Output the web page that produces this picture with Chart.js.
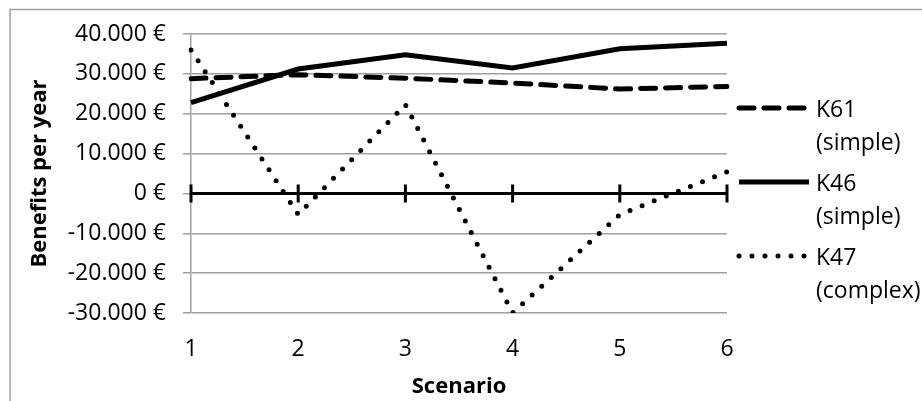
<!DOCTYPE html>
<html>
<head>
<meta charset="utf-8">
<script src="https://cdn.jsdelivr.net/npm/chart.js@4"></script>
<style>
  html, body { margin: 0; padding: 0; background: #fff; }
  #wrap { width: 922px; height: 401px; }
</style>
</head>
<body>
<div id="wrap"><canvas id="benefitsChart" width="922" height="401"></canvas></div>
<script>
const scenarios = ['1', '2', '3', '4', '5', '6'];
const seriesNames = [['K61', '(simple)'], ['K46', '(simple)'], ['K47', '(complex)']];
const k61Values = [28800, 29800, 28900, 27700, 26200, 26850];
const k46Values = [22800, 31200, 34800, 31500, 36300, 37700];
const k47Values = [36000, -5300, 22300, -30000, -5300, 5400];
const yTickValues = [-30000, -20000, -10000, 0, 10000, 20000, 30000, 40000];

const gridGray = '#a0a0a0';
const baseFont = { family: 'Open Sans', size: 23 };
const boldFont = { family: 'Open Sans', size: 22, weight: 'bold' };

function formatEuro(value) {
  const digits = String(Math.abs(value)).replace(/\B(?=(\d{3})+(?!\d))/g, '.');
  return (value < 0 ? '-' : '') + digits + ' €';
}

// grey frame round the chart (only top and left edges show)
const framePlugin = {
  id: 'frame',
  beforeDraw(chart) {
    const ctx = chart.ctx;
    ctx.save();
    ctx.strokeStyle = gridGray;
    ctx.lineWidth = 1.5;
    ctx.beginPath();
    ctx.moveTo(10, 401);
    ctx.lineTo(10, 9.5);
    ctx.lineTo(922, 9.5);
    ctx.stroke();
    ctx.restore();
  }
};

// black category axis crossing at zero, with tick marks
const zeroAxisPlugin = {
  id: 'zeroAxis',
  beforeDatasetsDraw(chart) {
    const { ctx, chartArea, scales } = chart;
    const y0 = scales.y.getPixelForValue(0);
    ctx.save();
    ctx.strokeStyle = '#000';
    ctx.lineWidth = 3;
    ctx.beginPath();
    ctx.moveTo(chartArea.left, y0);
    ctx.lineTo(chartArea.right, y0);
    scenarios.forEach((s, i) => {
      const x = scales.x.getPixelForValue(i);
      ctx.moveTo(x, y0 - 9);
      ctx.lineTo(x, y0 + 9);
    });
    ctx.stroke();
    ctx.restore();
  }
};

// legend on the right with the line samples and two-line names
const sideLegendPlugin = {
  id: 'sideLegend',
  afterDraw(chart) {
    const ctx = chart.ctx;
    const startX = chart.chartArea.right + 12;
    const textX = chart.chartArea.right + 89;
    const rows = [108, 182, 256];
    ctx.save();
    chart.data.datasets.forEach((ds, i) => {
      const y = rows[i];
      ctx.strokeStyle = ds.borderColor;
      ctx.lineWidth = ds.borderWidth;
      ctx.lineCap = ds.borderCapStyle || 'butt';
      ctx.setLineDash(ds.borderDash || []);
      ctx.beginPath();
      ctx.moveTo(startX, y);
      ctx.lineTo(startX + 70, y);
      ctx.stroke();
      ctx.setLineDash([]);
      ctx.fillStyle = '#000';
      ctx.font = '23px "Open Sans"';
      ctx.textBaseline = 'alphabetic';
      ctx.textAlign = 'left';
      seriesNames[i].forEach((line, j) => {
        ctx.fillText(line, textX, y + 9 + j * 33);
      });
    });
    ctx.restore();
  }
};

new Chart(document.getElementById('benefitsChart'), {
  type: 'line',
  data: {
    labels: scenarios,
    datasets: [{
      label: seriesNames[0].join(' '),
      data: k61Values,
      borderColor: '#000',
      borderWidth: 5,
      borderDash: [15, 10],
      borderCapStyle: 'round',
      pointRadius: 0,
      tension: 0
    }, {
      label: seriesNames[1].join(' '),
      data: k46Values,
      borderColor: '#000',
      borderWidth: 5,
      borderCapStyle: 'butt',
      pointRadius: 0,
      tension: 0
    }, {
      label: seriesNames[2].join(' '),
      data: k47Values,
      borderColor: '#000',
      borderWidth: 5,
      borderDash: [0, 13],
      borderCapStyle: 'round',
      pointRadius: 0,
      tension: 0
    }]
  },
  options: {
    responsive: false,
    animation: false,
    layout: { padding: { left: 11, right: 195, top: 34, bottom: 0 } },
    plugins: {
      legend: { display: false },
      tooltip: { enabled: false }
    },
    scales: {
      x: {
        offset: false,
        grid: { display: false, drawTicks: false },
        border: { display: false },
        ticks: { font: baseFont, color: '#000', padding: 23, maxRotation: 0 },
        title: { display: true, text: 'Scenario', font: boldFont, color: '#000', padding: { top: 0, bottom: 1 } },
        afterFit: function(scale) { scale.height = 88; }
      },
      y: {
        min: -30000,
        max: 40000,
        afterBuildTicks: function(scale) {
          scale.ticks = yTickValues.map((v) => ({ value: v }));
        },
        grid: { color: gridGray, lineWidth: 1.5, tickLength: 8 },
        border: { color: gridGray, width: 1.5 },
        ticks: { callback: formatEuro, padding: 17, font: baseFont, color: '#000' },
        title: { display: true, text: 'Benefits per year', font: boldFont, color: '#000', padding: { top: 16, bottom: 0 } },
        afterFit: function(scale) { scale.width = 180; }
      }
    }
  },
  plugins: [framePlugin, zeroAxisPlugin, sideLegendPlugin]
});
</script>
</body>
</html>
